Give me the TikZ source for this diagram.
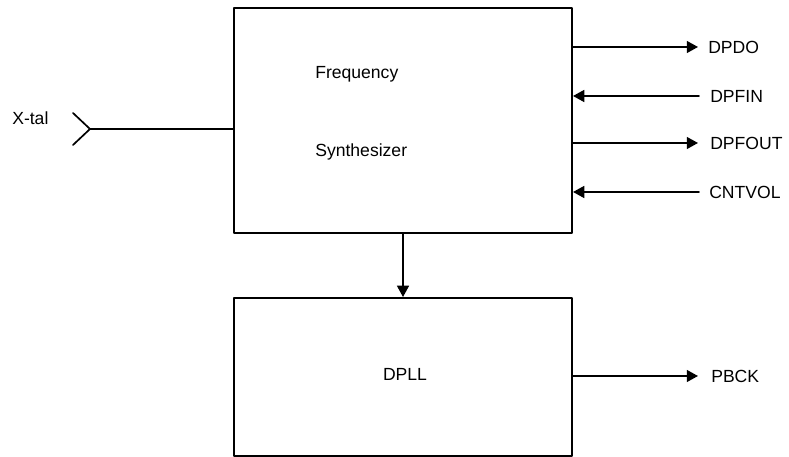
\documentclass[tikz,border=0pt]{standalone}
\usepackage{fontspec}
\setmainfont{Liberation Sans}
\usetikzlibrary{arrows.meta}

\tikzset{
  blk/.style={draw,line width=1.4pt,minimum width=8.45cm,inner sep=0pt},
  sig/.style={line width=1.2pt},
  sigarr/.style={sig,-{Triangle[length=8pt,width=8.5pt]}},
  pin/.style={anchor=west,inner sep=0pt,font=\fontsize{12.5}{15}\selectfont},
  txt/.style={anchor=base west,inner sep=0pt,font=\fontsize{12.5}{15}\selectfont}
}

\begin{document}
\begin{tikzpicture}[x=0.025cm,y=-0.025cm,line cap=round,line join=round]
  \useasboundingbox (0,0) rectangle (789,457);
  % blocks
  \node[blk,minimum height=5.625cm] (fs) at (403,120.5) {};
  \node[blk,minimum height=3.95cm] (dpll) at (403,377) {};
  \node[txt] (fsa) at (315,79) {Frequency};
  \node[txt] (fsb) at (315,157) {Synthesizer};
  \node[txt,anchor=base] (dplltxt) at (405,381) {DPLL};
  % x-tal input
  \coordinate (xtal) at (90,129);
  \draw[sig] (xtal) -- (xtal -| fs.west);
  \draw[sig] (73,113) -- (xtal) -- (73,145);
  \node[txt] (xtallbl) at (12,125) {X-tal};
  % outputs / inputs
  \coordinate (dpdo) at (698,47);
  \coordinate (dpfin) at (699,96);
  \coordinate (dpfout) at (698,143);
  \coordinate (cntvol) at (699,192);
  \coordinate (pbck) at (698,376);
  \draw[sigarr] (fs.east |- dpdo) -- (dpdo);
  \draw[sigarr] (dpfin) -- (fs.east |- dpfin);
  \draw[sigarr] (fs.east |- dpfout) -- (dpfout);
  \draw[sigarr] (cntvol) -- (fs.east |- cntvol);
  \draw[sigarr] (dpll.east |- pbck) -- (pbck);
  \node[pin] (dpdolbl) at (708,47) {DPDO};
  \node[pin] (dpfinlbl) at (710,96) {DPFIN};
  \node[pin] (dpfoutlbl) at (710,143) {DPFOUT};
  \node[pin] (cntvollbl) at (709,192) {CNTVOL};
  \node[pin] (pbcklbl) at (711,376) {PBCK};
  % link
  \draw[sigarr,line width=1pt] (fs) -- (dpll);
\end{tikzpicture}
\end{document}
